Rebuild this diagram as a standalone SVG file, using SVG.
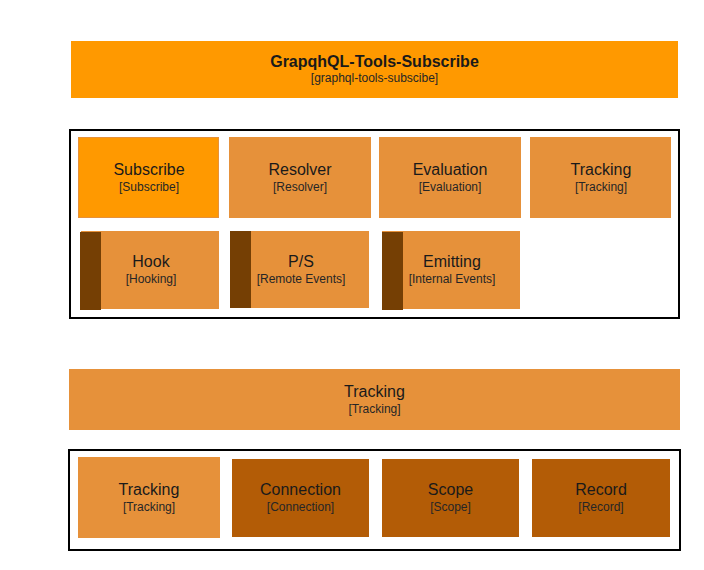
<svg xmlns="http://www.w3.org/2000/svg" width="704" height="570" viewBox="0 0 704 570">
<style>
text{font-family:"Liberation Sans",Arial,sans-serif;text-anchor:middle;fill:#1a1a1a}
.t{font-size:16px}
.s{font-size:12px;fill:#262626}
.b{font-weight:bold}
.lt{fill:#E6913A}
.dk{fill:#B35C06}
.or{fill:#FF9900}
.bar{fill:#753F04}
.box{fill:none;stroke:#000;stroke-width:2}
</style>
<rect width="704" height="570" fill="#fff"/>
<g id="banner">
<rect class="or" x="71" y="41" width="607" height="57"/>
<text class="t b" x="374.5" y="67">GrapqhQL-Tools-Subscribe</text>
<text class="s" x="374.5" y="82">[graphql-tools-subscibe]</text>
</g>
<g id="container1"><rect class="box" x="70" y="130" width="609" height="188"/></g>
<g id="subscribe">
<rect class="or" x="78.5" y="137.5" width="140" height="80" stroke="#E6913A" stroke-width="1"/>
<text class="t" x="149" y="175">Subscribe</text>
<text class="s" x="149" y="191">[Subscribe]</text>
</g>
<g id="resolver">
<rect class="lt" x="229" y="137" width="142" height="81"/>
<text class="t" x="300" y="175">Resolver</text>
<text class="s" x="300" y="191">[Resolver]</text>
</g>
<g id="evaluation">
<rect class="lt" x="379" y="137" width="142" height="81"/>
<text class="t" x="450" y="175">Evaluation</text>
<text class="s" x="450" y="191">[Evaluation]</text>
</g>
<g id="tracking1">
<rect class="lt" x="530" y="137" width="141" height="81"/>
<text class="t" x="601" y="175">Tracking</text>
<text class="s" x="601" y="191">[Tracking]</text>
</g>
<g id="hook">
<rect class="lt" x="81" y="231" width="138" height="78"/>
<rect class="bar" x="80" y="232" width="21" height="78"/>
<text class="t" x="151" y="267">Hook</text>
<text class="s" x="151" y="283">[Hooking]</text>
</g>
<g id="ps">
<rect class="lt" x="230" y="231" width="139" height="77"/>
<rect class="bar" x="230" y="231" width="21" height="77"/>
<text class="t" x="301" y="267">P/S</text>
<text class="s" x="301" y="283">[Remote Events]</text>
</g>
<g id="emitting">
<rect class="lt" x="382" y="231" width="138" height="78"/>
<rect class="bar" x="382" y="232" width="21" height="78"/>
<text class="t" x="452" y="267">Emitting</text>
<text class="s" x="452" y="283">[Internal Events]</text>
</g>
<g id="trackingBanner">
<rect class="lt" x="69" y="369" width="611" height="61"/>
<text class="t" x="374.5" y="397">Tracking</text>
<text class="s" x="374.5" y="413">[Tracking]</text>
</g>
<g id="container2"><rect class="box" x="69" y="450" width="611" height="100"/></g>
<g id="tracking2">
<rect class="lt" x="78" y="457" width="142" height="81"/>
<text class="t" x="149" y="495">Tracking</text>
<text class="s" x="149" y="511">[Tracking]</text>
</g>
<g id="connection">
<rect class="dk" x="232" y="459" width="137" height="78"/>
<text class="t" x="300.5" y="495">Connection</text>
<text class="s" x="300.5" y="511">[Connection]</text>
</g>
<g id="scope">
<rect class="dk" x="382" y="459" width="137" height="78"/>
<text class="t" x="450.5" y="495">Scope</text>
<text class="s" x="450.5" y="511">[Scope]</text>
</g>
<g id="record">
<rect class="dk" x="532" y="459" width="138" height="78"/>
<text class="t" x="601" y="495">Record</text>
<text class="s" x="601" y="511">[Record]</text>
</g>
<g id="connectors"></g>
</svg>
